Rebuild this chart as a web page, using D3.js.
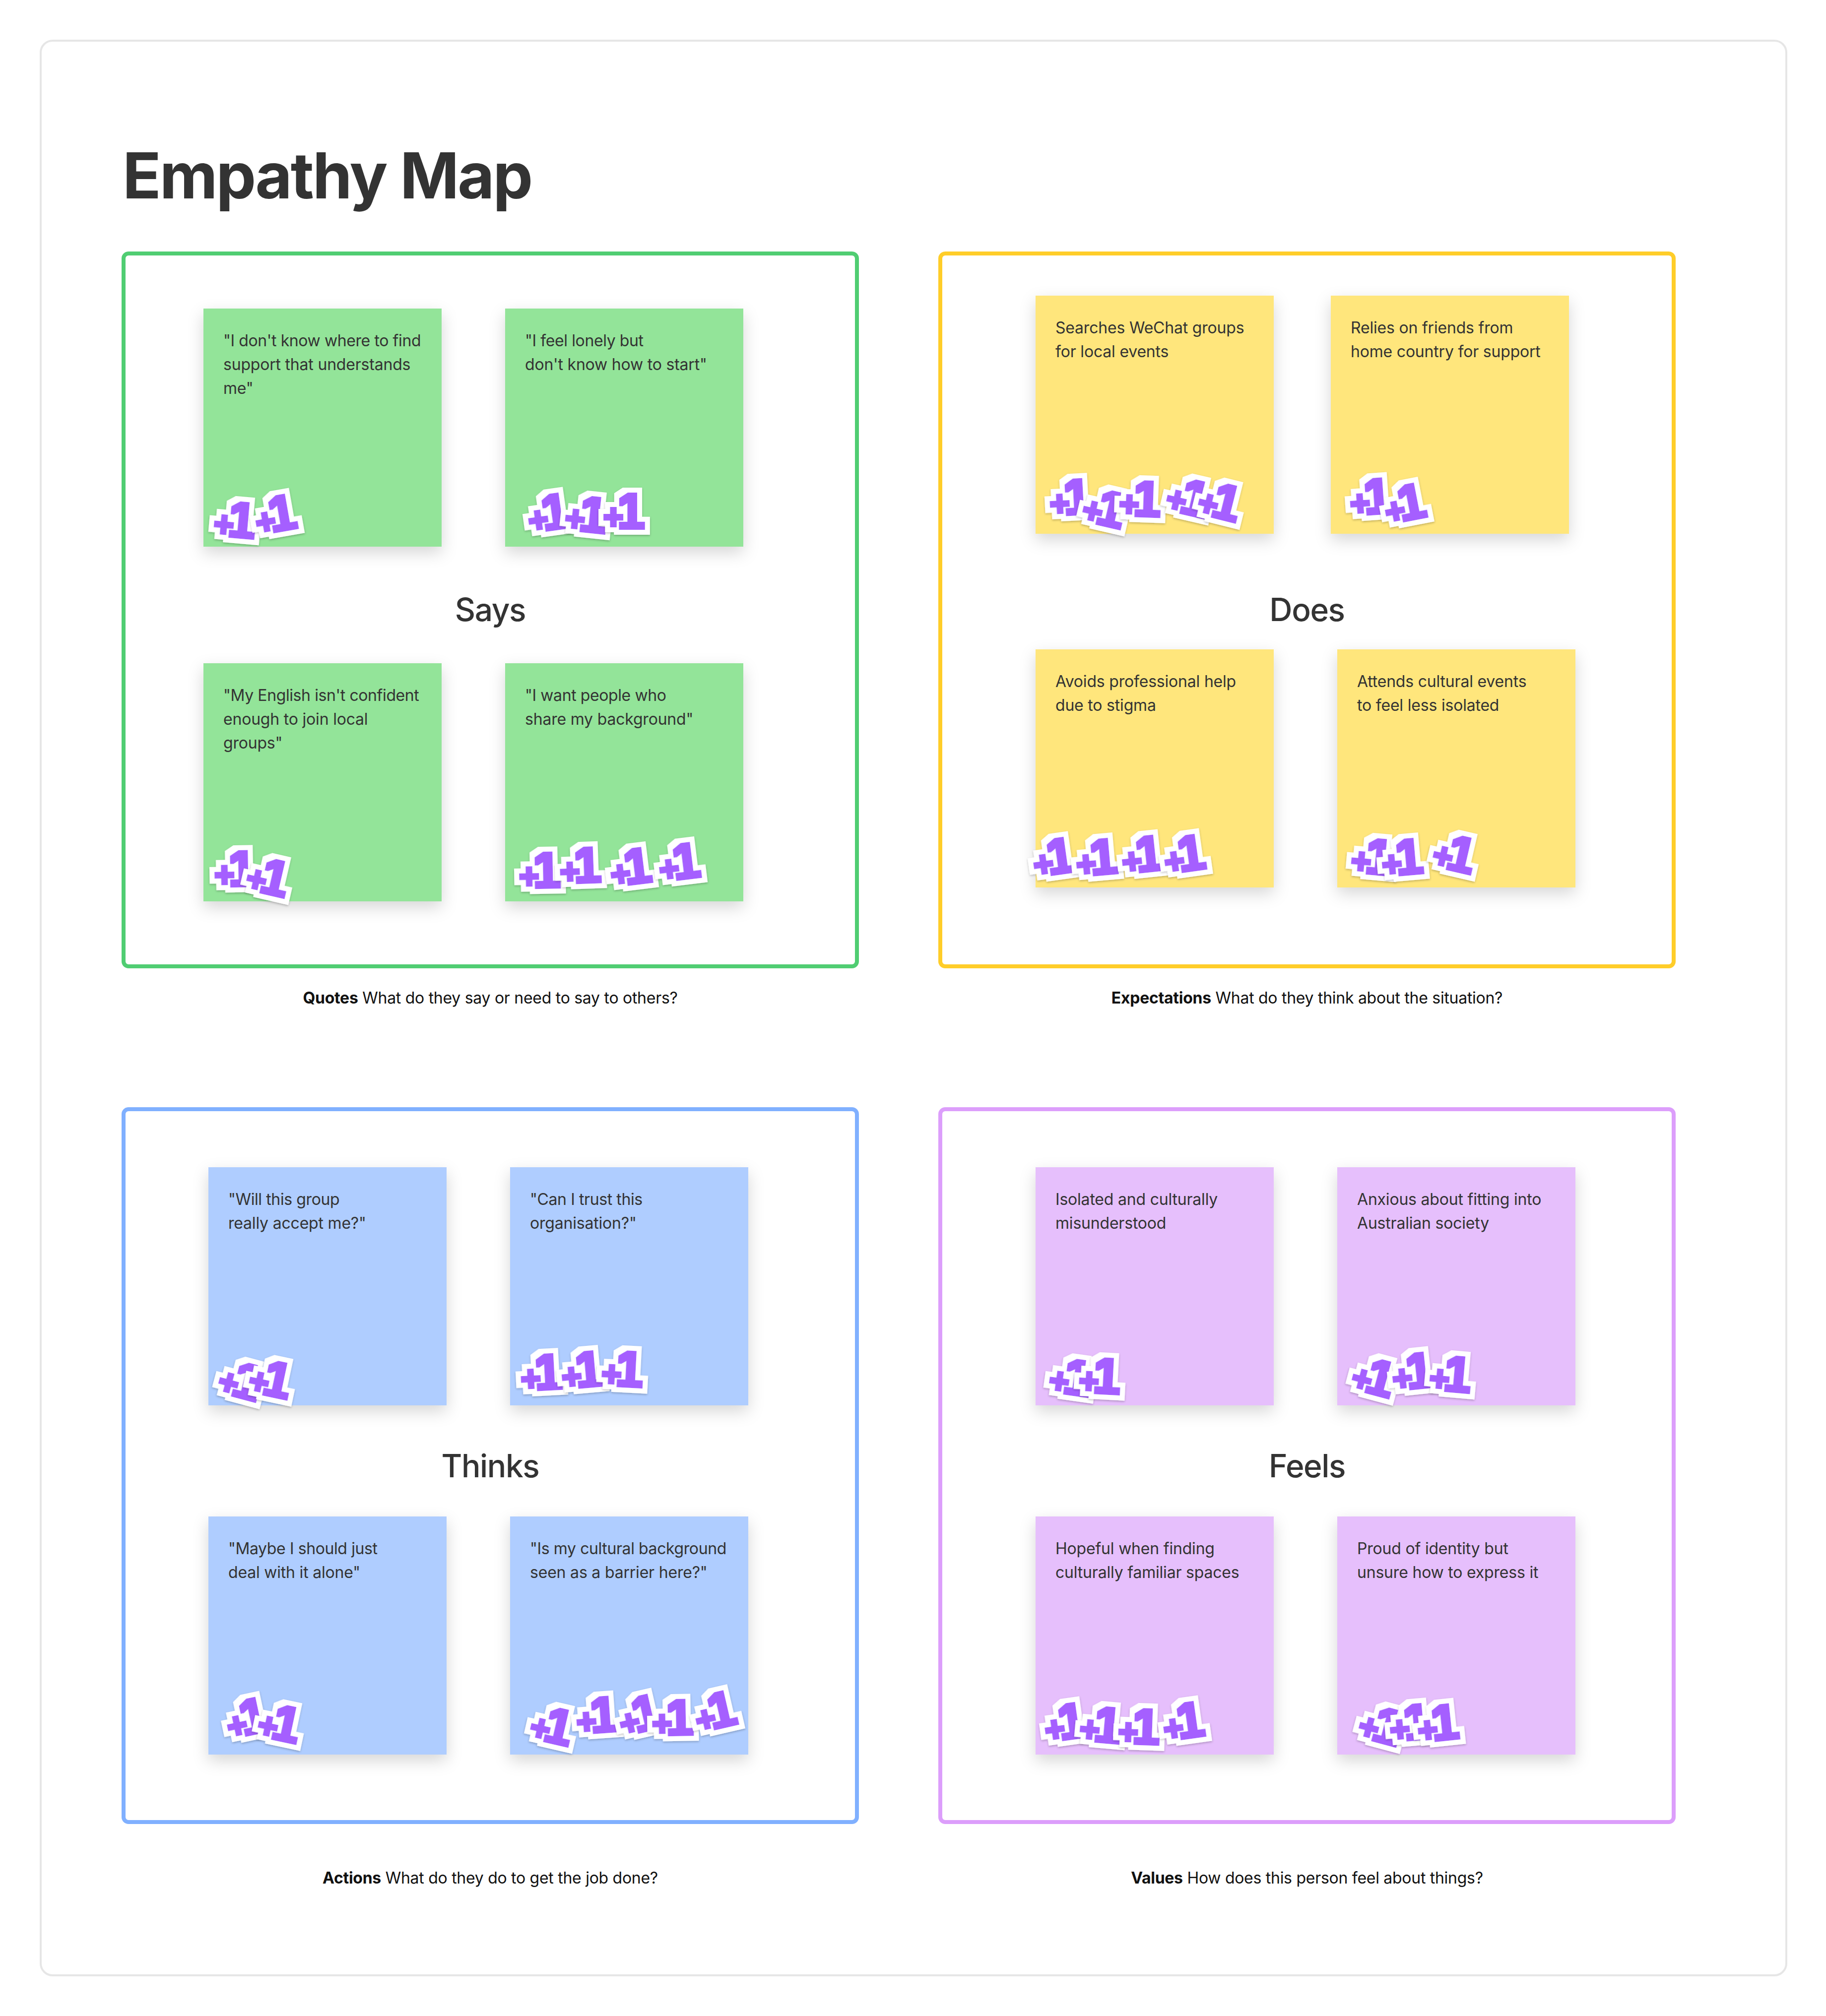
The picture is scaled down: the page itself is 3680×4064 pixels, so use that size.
<!DOCTYPE html>
<html>
<head>
<meta charset="utf-8">
<script src="https://cdn.jsdelivr.net/npm/d3@7"></script>
<style>
  html, body { margin: 0; background: #fff; }
  text { font-family: Inter, "Noto Sans", sans-serif; }
  text.vote { font-family: "Liberation Sans", Arial, sans-serif; font-weight: 700; }
</style>
</head>
<body>
<div id="chart"></div>
<script>
const chartTitle = "Empathy Map";
const quadrants = ["Says", "Does", "Thinks", "Feels"];
const captionBold = ["Quotes", "Expectations", "Actions", "Values"];
const captionRest = [
    "What do they say or need to say to others?",
    "What do they think about the situation?",
    "What do they do to get the job done?",
    "How does this person feel about things?"
];
const noteLines = [
    [["\"I don't know where to find", "support that understands", "me\""],
     ["\"I feel lonely but", "don't know how to start\""],
     ["\"My English isn't confident", "enough to join local", "groups\""],
     ["\"I want people who", "share my background\""]],
    [["Searches WeChat groups", "for local events"],
     ["Relies on friends from", "home country for support"],
     ["Avoids professional help", "due to stigma"],
     ["Attends cultural events", "to feel less isolated"]],
    [["\"Will this group", "really accept me?\""],
     ["\"Can I trust this", "organisation?\""],
     ["\"Maybe I should just", "deal with it alone\""],
     ["\"Is my cultural background", "seen as a barrier here?\""]],
    [["Isolated and culturally", "misunderstood"],
     ["Anxious about fitting into", "Australian society"],
     ["Hopeful when finding", "culturally familiar spaces"],
     ["Proud of identity but", "unsure how to express it"]]
];
const voteCounts = [[2, 3, 2, 4], [5, 2, 4, 3], [2, 3, 2, 5], [2, 3, 4, 3]];

// layout, page pixels
const frameColor = ["#50cd72", "#ffcd29", "#80b0ff", "#dc9efb"];
const noteColor = ["#93e499", "#ffe67b", "#afcdff", "#e6bffc"];
const frameX = [249, 1895, 249, 1895];
const frameY = [511, 511, 2236, 2236];
const frameW = 1478;
const frameH = 1437;
const noteSize = 480;
const noteX = [[410, 1018, 410, 1018], [2087, 2682, 2087, 2695], [420, 1028, 420, 1028], [2087, 2695, 2087, 2695]];
const noteY = [[622, 622, 1337, 1337], [596, 596, 1309, 1309], [2353, 2353, 3057, 3057], [2353, 2353, 3057, 3057]];
const headingY = [1252, 1252, 2978, 2978];
const captionY = [2023, 2023, 3797, 3797];

// sticker centre x, centre y, rotation, in reading order of the notes
const votePlace = [
    [474, 1048, 5], [555, 1037, -10],
    [1105, 1034, -8], [1182, 1037, 6], [1258, 1031, 0],
    [474, 1752, -1], [541, 1767, 13],
    [1088, 1755, -1], [1170, 1745, -2], [1271, 1748, -7], [1369, 1738, -7],
    [2157, 1003, -3], [2226, 1024, 13], [2298, 1006, 2], [2395, 1002, 13], [2459, 1010, 14],
    [2762, 1002, -4], [2831, 1015, -11],
    [2123, 1728, -8], [2210, 1729, -5], [2302, 1723, -6], [2387, 1722, -8],
    [2766, 1727, 5], [2826, 1729, -5], [2932, 1720, 13],
    [485, 2782, 15], [546, 2779, 12],
    [1091, 2767, -3], [1173, 2762, -5], [1255, 2760, 3],
    [497, 3463, -12], [564, 3473, 12],
    [1113, 3478, 13], [1203, 3458, -4], [1288, 3457, -13], [1356, 3463, -1], [1441, 3450, -13],
    [2158, 2776, 8], [2217, 2774, 3],
    [2769, 2775, 15], [2847, 2765, -6], [2924, 2770, 5],
    [2146, 3472, -8], [2219, 3477, 5], [2296, 3481, 2], [2385, 3470, -8],
    [2783, 3477, 15], [2842, 3473, -5], [2898, 3474, -6]
];

const svg = d3.select("#chart").append("svg")
    .attr("width", 3680)
    .attr("height", 4064)
    .style("display", "block");

const defs = svg.append("defs");
defs.append("filter").attr("id", "noteShadow")
    .attr("x", "-20%").attr("y", "-20%").attr("width", "140%").attr("height", "140%")
    .append("feDropShadow")
    .attr("dx", 0).attr("dy", 12).attr("stdDeviation", 16)
    .attr("flood-color", "#000").attr("flood-opacity", 0.16);

// sticker look: glyphs thickened, square-cornered white die-cut behind, small shadow
const voteFilter = defs.append("filter").attr("id", "voteSticker")
    .attr("x", "-40%").attr("y", "-40%").attr("width", "180%").attr("height", "180%");
voteFilter.append("feMorphology").attr("in", "SourceAlpha").attr("operator", "dilate").attr("radius", 3).attr("result", "thick");
voteFilter.append("feMorphology").attr("in", "SourceAlpha").attr("operator", "dilate").attr("radius", 13).attr("result", "cut");
voteFilter.append("feFlood").attr("flood-color", "#fff");
voteFilter.append("feComposite").attr("in2", "cut").attr("operator", "in").attr("result", "white");
voteFilter.append("feFlood").attr("flood-color", "#a55fff");
voteFilter.append("feComposite").attr("in2", "thick").attr("operator", "in").attr("result", "purple");
voteFilter.append("feGaussianBlur").attr("in", "cut").attr("stdDeviation", 2);
voteFilter.append("feOffset").attr("dy", 2).attr("result", "blur");
voteFilter.append("feFlood").attr("flood-color", "#000").attr("flood-opacity", 0.25);
voteFilter.append("feComposite").attr("in2", "blur").attr("operator", "in").attr("result", "shadow");
const voteMerge = voteFilter.append("feMerge");
["shadow", "white", "purple"].forEach(d => voteMerge.append("feMergeNode").attr("in", d));

svg.append("rect")
    .attr("x", 82).attr("y", 82)
    .attr("width", 3518).attr("height", 3900)
    .attr("rx", 24)
    .attr("fill", "#fff")
    .attr("stroke", "#e6e6e6")
    .attr("stroke-width", 4);

svg.append("text")
    .attr("x", 247)
    .attr("y", 400)
    .attr("font-size", 128)
    .attr("font-weight", 700)
    .attr("letter-spacing", "-3px")
    .attr("fill", "#333")
    .text(chartTitle);

let voteIndex = 0;

quadrants.forEach(function (name, q) {
    const g = svg.append("g").attr("class", "quadrant");

    g.append("rect")
        .attr("x", frameX[q]).attr("y", frameY[q])
        .attr("width", frameW).attr("height", frameH)
        .attr("rx", 10)
        .attr("fill", "#fff")
        .attr("stroke", frameColor[q])
        .attr("stroke-width", 8);

    g.append("text")
        .attr("x", frameX[q] + frameW / 2)
        .attr("y", headingY[q])
        .attr("text-anchor", "middle")
        .attr("font-size", 64)
        .attr("font-weight", 450)
        .attr("letter-spacing", "-1.4px")
        .attr("fill", "#333")
        .text(name);

    const caption = g.append("text")
        .attr("x", frameX[q] + frameW / 2)
        .attr("y", captionY[q])
        .attr("text-anchor", "middle")
        .attr("font-size", 32)
        .attr("letter-spacing", "-0.28px")
        .attr("fill", "#111");
    caption.append("tspan").attr("font-weight", 700).text(captionBold[q]);
    caption.append("tspan").text(" " + captionRest[q]);

    noteLines[q].forEach(function (lines, n) {
        const note = g.append("g").attr("class", "note");
        note.append("rect")
            .attr("x", noteX[q][n]).attr("y", noteY[q][n])
            .attr("width", noteSize).attr("height", noteSize)
            .attr("fill", noteColor[q])
            .attr("filter", "url(#noteShadow)");

        note.selectAll("text.line")
            .data(lines)
            .join("text")
            .attr("class", "line")
            .attr("x", noteX[q][n] + 40)
            .attr("y", (d, i) => noteY[q][n] + 76 + i * 48)
            .attr("font-size", 32)
            .attr("letter-spacing", d => d[0] === "\"" ? "-0.4px" : "-0.2px")
            .attr("fill", "#333")
            .text(d => d);
    });

    // stickers go on last so they sit above every note of the quadrant
    noteLines[q].forEach(function (lines, n) {
        const places = votePlace.slice(voteIndex, voteIndex + voteCounts[q][n]);
        voteIndex += voteCounts[q][n];
        const vote = g.selectAll(null)
            .data(places)
            .join("text")
            .attr("class", "vote")
            .attr("transform", d => "translate(" + d[0] + "," + d[1] + ") rotate(" + d[2] + ")")
            .attr("y", 34)
            .attr("text-anchor", "middle")
            .attr("fill", "#a55fff")
            .attr("filter", "url(#voteSticker)");
        vote.append("tspan").attr("font-size", 68).text("+");
        vote.append("tspan").attr("font-size", 100).attr("dx", -12).text("1");
    });
});
</script>
</body>
</html>
